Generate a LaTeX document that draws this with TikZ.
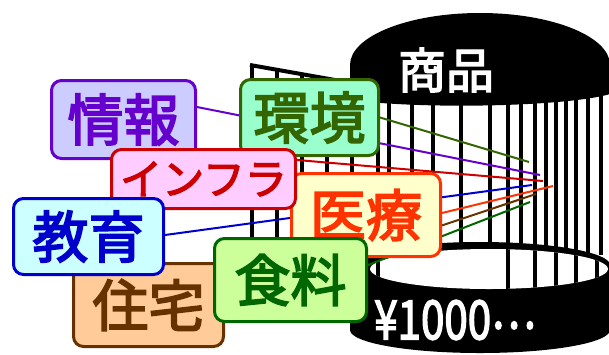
\documentclass[tikz,border=0pt]{standalone}
\usepackage{fontspec}
\setmainfont{Noto Sans CJK JP}[FakeBold=3]
\usetikzlibrary{calc}
\definecolor{infoC}{HTML}{6600CC}\definecolor{infoF}{HTML}{CCCCFF}
\definecolor{envC}{HTML}{336600}\definecolor{envF}{HTML}{99FFCC}
\definecolor{infraC}{HTML}{CC0000}\definecolor{infraF}{HTML}{FFCCFF}
\definecolor{medC}{HTML}{FF3300}\definecolor{medF}{HTML}{FFFFCC}
\definecolor{eduC}{HTML}{0000CC}\definecolor{eduF}{HTML}{CCFFFF}
\definecolor{houseC}{HTML}{663300}\definecolor{houseF}{HTML}{FFCC99}
\definecolor{foodC}{HTML}{006600}\definecolor{foodF}{HTML}{CCFF99}
\pgfdeclarelayer{cage}\pgfdeclarelayer{wires}
\pgfsetlayers{cage,wires,main}
\begin{document}
\begin{tikzpicture}[x=1pt,y=-1pt,
  tag/.style={draw=#1C, fill=#1F, text=#1C, line width=3pt,
    rounded corners=10pt, inner sep=0pt,
    font=\fontsize{56}{56}\selectfont},
  bar/.style={line width=4pt},
  wire/.style={line width=2pt}]
\useasboundingbox (0,0) rectangle (609,354);

% labelled boxes, back to front
\node[tag=house, minimum width=150, minimum height=83] (house) at (148.5,305) {住宅};
\node[tag=info, minimum width=144, minimum height=78] (info) at (123.5,119.5) {情報};
\node[tag=env, minimum width=138, minimum height=76] (env) at (309.5,117.5) {環境};
\node[tag=med, minimum width=149, minimum height=83] (med) at (366,215) {医療};
\node[tag=infra, minimum width=184, minimum height=59,
  font=\fontsize{42}{42}\selectfont] (infra) at (203.5,179) {インフラ};
\node[tag=edu, minimum width=150, minimum height=76] (edu) at (88.5,236.5) {教育};
\node[tag=food, minimum width=152, minimum height=83] (food) at (290.5,280) {食料};

% where the wires end inside the cage
\coordinate (tInfo) at (540,175);
\coordinate (tEnv) at (529,162);
\coordinate (tInfra) at (543,181);
\coordinate (tEdu) at (532,185);
\coordinate (tMed) at (553,186);
\coordinate (tHouse) at (536,194);
\coordinate (tFood) at (530,202);

\begin{pgfonlayer}{wires}
  \draw[wire, infoC] ($(info.east)+(0,-12.5)$) -- (tInfo);
  \draw[wire, envC] (env.east) -- (tEnv);
  \draw[wire, infraC] ($(infra.east)+(0,-19)$) -- (tInfra);
  \draw[wire, eduC] ($(edu.east)+(0,-1.5)$) -- (tEdu);
  \draw[wire, medC] ($(med.east)+(0,-2)$) -- (tMed);
  \draw[wire, houseC] ($(house.east)+(0,-7)$) -- (tHouse);
  \draw[wire, foodC] ($(food.east)+(0,-15)$) -- (tFood);
\end{pgfonlayer}

\begin{pgfonlayer}{cage}
  \fill[white] (0,0) rectangle (609,354);
  % front frame of the cage
  \foreach \x in {252,277,302,327}
    \draw[bar] (\x,{65+(\x-252)*0.18}) -- (\x,262);
  \draw[bar] (250,65) -- (352,83);
  % bars of the drum
  \foreach \x in {352,378,389,412,433,461,490,508,521,535,546,556,566,576,588,601}
    \draw[bar] (\x,95) -- (\x,255);
  % lid
  \fill (350,100) -- (350,65)
    arc[start angle=180, end angle=360, x radius=130, y radius=52]
    -- (610,94) .. controls (570,106) and (430,110) .. (350,100) -- cycle;
  % base ring
  \fill (350,265) arc[start angle=180, end angle=360, x radius=130, y radius=23]
    -- (610,330) arc[start angle=0, end angle=180, x radius=130, y radius=23] -- cycle;
  \fill[white] (489,269) ellipse[x radius=119, y radius=20];
  \begin{scope}
    \clip (489,269) ellipse[x radius=119, y radius=20];
    \foreach \x in {378,508,535,556,576,597}
      \draw[bar] (\x,240) -- (\x,300);
  \end{scope}
  \node[white, font=\fontsize{48}{48}\selectfont, inner sep=0pt] (goods) at (446,70) {商品};
  \node[white, font=\fontsize{54}{54}\selectfont, inner sep=0pt] (price) at (455,320)
    {\scalebox{0.78}[1]{¥1000\raisebox{0.2em}{…}}};
\end{pgfonlayer}
\end{tikzpicture}
\end{document}
